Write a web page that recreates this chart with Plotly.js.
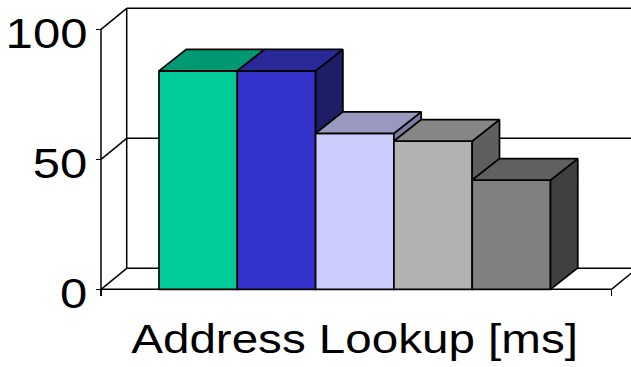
<!DOCTYPE html>
<html>
<head>
<meta charset="utf-8">
<script src="https://cdn.plot.ly/plotly-3.0.1.min.js"></script>
<style>
  html, body { margin: 0; padding: 0; background: #fff; }
  #chart { width: 631px; height: 367px; }
</style>
</head>
<body>
<div id="chart"></div>
<script>
// ---- data ----
const categoryLabel = 'Address Lookup [ms]';
const seriesNames = ['Series 1', 'Series 2', 'Series 3', 'Series 4', 'Series 5'];
const seriesValues = [84, 84, 60, 57, 42];
const tickValues = [0, 50, 100];
const tickLabels = ['0', '50', '100'];

// ---- colours: front, top and side faces of each column ----
const frontColors = ['#00CC99', '#3333CC', '#CCCCFF', '#B2B2B2', '#808080'];
const topColors   = ['#009973', '#29299A', '#9999C0', '#868686', '#606060'];
const sideColors  = ['#006E52', '#1E1E66', '#7A7AA3', '#5F5F5F', '#404040'];

// ---- geometry (pixel sizes turned into axis units) ----
const W = 631, H = 367;
const M = { l: 88, r: 0, t: 0, b: 67 };
const pxPerY = 2.6;          // pixels per value unit
const zeroPx = 289.3;        // pixel row of the value 0 on the front plane
const pxPerBar = 78.3;       // width of one column
const padLeftPx = 58, padRightPx = 61;
const barDepth = { dx: 27.3 / pxPerBar, dy: 21.5 / pxPerY };
const wallDepth = { dx: 25.7 / pxPerBar, dy: 21 / pxPerY };
const lineW = 1.7;

const n = seriesValues.length;
const xs = seriesValues.map((_, i) => i);
const xL = -0.5 - padLeftPx / pxPerBar;        // front-left corner of the floor
const xR = n - 0.5 + padRightPx / pxPerBar;    // front-right corner of the floor

const plotW = W - M.l - M.r, plotH = H - M.t - M.b;
const xMin = xL - (101 - M.l) / pxPerBar;
const xMax = xMin + plotW / pxPerBar;
const yMax = (zeroPx - M.t) / pxPerY;
const yMin = yMax - plotH / pxPerY;

// ---- traces ----
const traces = [];

// front faces
traces.push({
  type: 'bar',
  x: xs,
  y: seriesValues,
  width: 1,
  marker: { color: frontColors, line: { color: '#000', width: lineW } },
  hoverinfo: 'skip',
  showlegend: false
});

// side and top faces, left to right so each column hides the one behind it
seriesValues.forEach((v, i) => {
  const L = xs[i] - 0.5, R = xs[i] + 0.5;
  const next = i < n - 1 ? seriesValues[i + 1] : 0;
  if (next < v) {
    traces.push({
      type: 'scatter', mode: 'lines', fill: 'toself',
      x: [R, R, R + barDepth.dx, R + barDepth.dx, R],
      y: [next, v, v + barDepth.dy, next + barDepth.dy, next],
      fillcolor: sideColors[i],
      line: { color: '#000', width: lineW },
      hoverinfo: 'skip', showlegend: false, name: seriesNames[i]
    });
  }
  traces.push({
    type: 'scatter', mode: 'lines', fill: 'toself',
    x: [L, R, R + barDepth.dx, L + barDepth.dx, L],
    y: [v, v, v + barDepth.dy, v + barDepth.dy, v],
    fillcolor: topColors[i],
    line: { color: '#000', width: lineW },
    hoverinfo: 'skip', showlegend: false, name: seriesNames[i]
  });
});

// ---- walls, floor and gridlines ----
const ln = (x0, y0, x1, y1) => ({
  type: 'line', xref: 'x', yref: 'y', layer: 'below',
  x0, y0, x1, y1, line: { color: '#000', width: 1.5 }
});
const shapes = [];
const topTick = tickValues[tickValues.length - 1];
shapes.push(ln(xL + wallDepth.dx, wallDepth.dy, xL + wallDepth.dx, topTick + wallDepth.dy));
tickValues.forEach(t => {
  shapes.push(ln(xL + wallDepth.dx, t + wallDepth.dy, xR + wallDepth.dx, t + wallDepth.dy));
  shapes.push(ln(xL, t, xL + wallDepth.dx, t + wallDepth.dy));
});
shapes.push(ln(xR, 0, xR + wallDepth.dx, wallDepth.dy));
shapes.push(ln(xL, 0, xR, 0));
shapes.push(ln(xL, 0, xL, topTick));

const FONT = 'Liberation Sans, Arial, sans-serif';

const layout = {
  width: W, height: H,
  margin: M,
  paper_bgcolor: '#fff', plot_bgcolor: 'rgba(0,0,0,0)',
  font: { family: FONT, color: '#000' },
  showlegend: false,
  hovermode: false,
  xaxis: {
    range: [xMin, xMax],
    anchor: 'free',
    position: (0 - yMin) / (yMax - yMin),
    tickvals: [xL, xR],
    ticks: 'outside', ticklen: 6, tickwidth: 1.5, tickcolor: '#000',
    showticklabels: false,
    showgrid: false, zeroline: false, showline: false,
    fixedrange: true
  },
  yaxis: {
    range: [yMin, yMax],
    anchor: 'free',
    position: (xL - xMin) / (xMax - xMin),
    tickvals: tickValues,
    ticktext: tickLabels,
    ticks: 'outside', ticklen: 5, tickwidth: 1.5, tickcolor: '#000',
    tickfont: { family: FONT, size: 43, color: '#000' },
    ticklabelshift: 4,
    ticklabelstandoff: 0,
    showgrid: false, zeroline: false, showline: false,
    fixedrange: true
  },
  shapes: shapes,
  annotations: [{
    text: categoryLabel,
    xref: 'paper', yref: 'paper',
    x: (354 - M.l) / plotW, y: 0,
    xanchor: 'center', yanchor: 'top',
    yshift: -13.7,
    showarrow: false,
    font: { family: FONT, size: 41, color: '#000' }
  }]
};

// stretch glyphs horizontally about their anchor point
function widen(selector, k) {
  document.querySelectorAll(selector).forEach(t => {
    const bb = t.getBBox();
    const anchor = t.getAttribute('text-anchor') || getComputedStyle(t).textAnchor;
    let ax = bb.x;
    if (anchor === 'end') ax = bb.x + bb.width;
    else if (anchor === 'middle') ax = bb.x + bb.width / 2;
    const prev = t.getAttribute('transform') || '';
    t.setAttribute('transform',
      `${prev} translate(${ax},0) scale(${k},1) translate(${-ax},0)`.trim());
  });
}

Plotly.newPlot('chart', traces, layout, { staticPlot: true, displayModeBar: false })
  .then(() => {
    widen('#chart .ytick text', 1.14);
    widen('#chart .annotation-text', 1.16);
  });
</script>
</body>
</html>
